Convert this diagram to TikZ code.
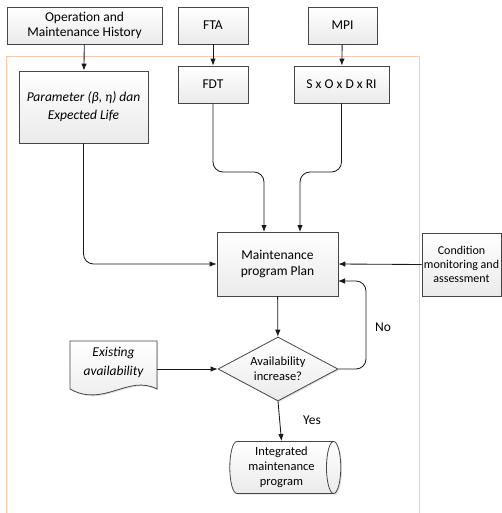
\documentclass[tikz,border=0pt]{standalone}
\usepackage{fontspec}
\setmainfont{Carlito}
\usetikzlibrary{arrows.meta,shapes.geometric,shadows}
\definecolor{framepeach}{RGB}{248,203,173}
\definecolor{boxline}{RGB}{70,70,70}
\tikzset{
  flowbox/.style={draw=boxline, line width=0.8pt, top color=white, bottom color=gray!16, align=center,
    inner sep=2pt, font=\fontsize{13.5}{15.5}\selectfont,
    drop shadow={shadow xshift=1.2pt, shadow yshift=-1.2pt, opacity=0.25}},
  decision/.style={flowbox, diamond, aspect=1.9, inner sep=0pt},
  flowline/.style={draw=black!90, line width=0.85pt, -{Latex[length=7pt,width=5.5pt]}, rounded corners=10pt},
  tag/.style={font=\fontsize{13.5}{15.5}\selectfont}
}
\begin{document}
\begin{tikzpicture}[x=1pt, y=-1pt]
\useasboundingbox (0,0) rectangle (501,513);
\draw[framepeach, line width=1pt] (6,57) rectangle (419,530);
\node[flowbox, minimum width=155, minimum height=37] (omh) at (84.5,25.5) {Operation and\\Maintenance History};
\node[flowbox, minimum width=70, minimum height=37] (fta) at (213,25.5) {FTA};
\node[flowbox, minimum width=69, minimum height=37] (mpi) at (342.5,25.5) {MPI};
\node[flowbox, minimum width=129, minimum height=72, font=\fontsize{13.5}{18}\selectfont\itshape] (param) at (83.5,107) {Parameter (β, η) dan\\Expected Life};
\node[flowbox, minimum width=70, minimum height=37] (fdt) at (213,84.5) {FDT};
\node[flowbox, minimum width=95, minimum height=37] (sodr) at (341.5,84.5) {S x O x D x RI};
\node[flowbox, minimum width=121, minimum height=64] (plan) at (277.5,264) {Maintenance\\program Plan};
\node[flowbox, minimum width=77, minimum height=63, font=\fontsize{12}{14}\selectfont] (cond) at (461.5,264.5) {Condition\\monitoring and\\assessment};
\node[decision, minimum width=120, minimum height=64, font=\fontsize{12.5}{15}\selectfont] (avail) at (278,369) {Availability\\increase?};
\node[flowbox, cylinder, minimum height=111, minimum width=52, aspect=0.35, inner sep=0pt, font=\fontsize{12.5}{15}\selectfont] (integ) at (281.5,467.5) {Integrated\\maintenance\\program};
\path[flowbox, draw=boxline] (70,341) -- (157,341) -- (157,389) .. controls (128,374) and (104,408) .. (70,389) -- cycle;
\node[tag, font=\fontsize{13.5}{19}\selectfont\itshape, align=center] (exist) at (113.5,362) {Existing\\availability};
\coordinate (docr) at (157,369);
\draw[flowline] (omh) -- (param);
\draw[flowline] (fta) -- (fdt);
\draw[flowline] (mpi) -- (sodr);
\draw[flowline] (param.south) |- (plan.west);
\draw[flowline] (fdt.south) -- (213,172) -- (264,172) -- (264,232);
\draw[flowline] (sodr.south) -- (341.5,172) -- (300,172) -- (300,232);
\draw[flowline] (cond.west) -- (plan.east);
\draw[flowline] (plan) -- (avail);
\draw[flowline] (docr) -- (avail.west);
\draw[flowline] (avail.east) -| (366,281) -- (338,281);
\draw[flowline] (avail.south) -- (integ.north);
\node[tag] (no) at (383,327) {No};
\node[tag] (yes) at (312,420) {Yes};
\end{tikzpicture}
\end{document}
